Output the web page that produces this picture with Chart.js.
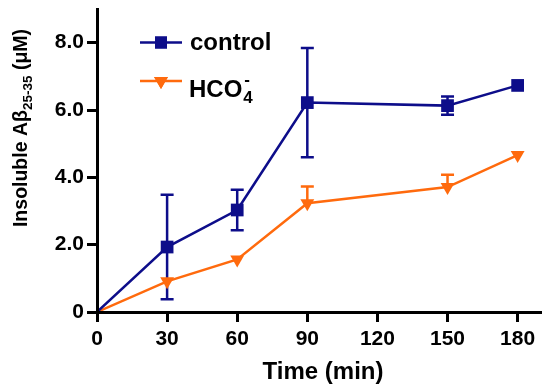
<!DOCTYPE html>
<html>
<head>
<meta charset="utf-8">
<script src="https://cdn.jsdelivr.net/npm/chart.js@4/dist/chart.umd.min.js"></script>
<style>
  html, body { margin: 0; padding: 0; background: #fff; }
  #wrap { width: 550px; height: 389px; }
</style>
</head>
<body>
<div id="wrap"><canvas id="grafico"></canvas></div>
<script>
// dados
const tempoMin = [0, 30, 60, 90, 150, 180];
const controleMedia = [0, 1.93, 3.03, 6.22, 6.13, 6.73];
const controleErro = [0, 1.55, 0.60, 1.62, 0.27, 0];
const hco4Media = [0, 0.91, 1.56, 3.23, 3.71, 4.66];
const hco4ErroSup = [0, 0, 0, 0.50, 0.37, 0];   // só a barra de cima aparece

const xTicks = [0, 30, 60, 90, 120, 150, 180];
const yTicks = [0, 2, 4, 6, 8];

const AZUL = "#0d0d8a";
const LARANJA = "#ff6a0d";
const FONTE = "'Liberation Sans', Arial, sans-serif";

const pares = (ys) => tempoMin.map((t, i) => ({ x: t, y: ys[i] }));

// barras de erro (desenhadas antes dos marcadores)
const barrasErro = {
    id: "barrasErro",
    beforeDatasetsDraw(chart) {
        const { ctx, scales: { x, y } } = chart;
        const series = [
            { media: controleMedia, sup: controleErro, inf: controleErro, cor: AZUL },
            { media: hco4Media, sup: hco4ErroSup, inf: null, cor: LARANJA },
        ];
        ctx.save();
        ctx.lineWidth = 2.5;
        series.forEach((s) => {
            ctx.strokeStyle = s.cor;
            tempoMin.forEach((t, i) => {
                const px = x.getPixelForValue(t);
                const py = y.getPixelForValue(s.media[i]);
                const cap = 6.5;
                if (s.sup[i] > 0) {
                    const top = y.getPixelForValue(s.media[i] + s.sup[i]);
                    ctx.beginPath();
                    ctx.moveTo(px, py); ctx.lineTo(px, top);
                    ctx.moveTo(px - cap, top); ctx.lineTo(px + cap, top);
                    ctx.stroke();
                }
                if (s.inf && s.inf[i] > 0) {
                    const bot = y.getPixelForValue(s.media[i] - s.inf[i]);
                    ctx.beginPath();
                    ctx.moveTo(px, py); ctx.lineTo(px, bot);
                    ctx.moveTo(px - cap, bot); ctx.lineTo(px + cap, bot);
                    ctx.stroke();
                }
            });
        });
        ctx.restore();
    },
};

// legenda interna + títulos dos eixos (com sub/sobrescrito)
const textos = {
    id: "textos",
    afterDraw(chart) {
        const { ctx } = chart;
        ctx.save();
        ctx.fillStyle = "#000";
        ctx.textBaseline = "alphabetic";

        // legenda
        const item = (yLinha, cor, estilo, rot) => {
            ctx.strokeStyle = cor;
            ctx.lineWidth = 2.5;
            ctx.beginPath();
            ctx.moveTo(140, yLinha); ctx.lineTo(182, yLinha);
            ctx.stroke();
            ctx.fillStyle = cor;
            Chart.helpers.drawPoint(ctx, { pointStyle: estilo, radius: estilo === "rect" ? 8.5 : 8, rotation: rot, borderWidth: 0 }, 161, yLinha);
            ctx.fill();
        };
        item(42.5, AZUL, "rect", 0);
        item(81, LARANJA, "triangle", 180);

        ctx.fillStyle = "#000";
        ctx.font = `bold 24px ${FONTE}`;
        ctx.textAlign = "left";
        ctx.fillText("control", 190, 50);
        ctx.fillText("HCO", 189, 97);
        let w = ctx.measureText("HCO").width;
        ctx.font = `bold 17px ${FONTE}`;
        ctx.fillText("4", 189 + w + 1, 103);
        ctx.fillText("-", 189 + w + 2, 85);

        // título do eixo x
        ctx.font = `bold 24px ${FONTE}`;
        ctx.textAlign = "center";
        ctx.fillText("Time (min)", 323, 379);

        // título do eixo y, girado
        ctx.translate(27, 128);
        ctx.rotate(-Math.PI / 2);
        const partes = [
            { t: "Insoluble A\u03b2", f: `bold 19.5px ${FONTE}`, dy: 0 },
            { t: "25-35", f: `bold 13.5px ${FONTE}`, dy: 5 },
            { t: " (\u03bcM)", f: `bold 19.5px ${FONTE}`, dy: 0 },
        ];
        let total = 0;
        partes.forEach((p) => { ctx.font = p.f; total += ctx.measureText(p.t).width; });
        let cx = -total / 2;
        ctx.textAlign = "left";
        partes.forEach((p) => {
            ctx.font = p.f;
            ctx.fillText(p.t, cx, p.dy);
            cx += ctx.measureText(p.t).width;
        });
        ctx.restore();
    },
};

// o marcador na origem fica escondido atrás dos eixos no original
const raio = (r) => (ctx) => (ctx.dataIndex === 0 ? 0 : r);

new Chart(document.getElementById("grafico"), {
    type: "line",
    data: {
        datasets: [
            {
                label: "control",
                data: pares(controleMedia),
                borderColor: AZUL,
                backgroundColor: AZUL,
                borderWidth: 2.5,
                pointStyle: "rect",
                pointRadius: raio(9),
                pointBorderWidth: 0,
            },
            {
                label: "HCO4-",
                data: pares(hco4Media),
                borderColor: LARANJA,
                backgroundColor: LARANJA,
                borderWidth: 2.5,
                pointStyle: "triangle",
                pointRotation: 180,
                pointRadius: raio(8),
                pointBorderWidth: 0,
            },
        ],
    },
    options: {
        responsive: true,
        maintainAspectRatio: false,
        animation: false,
        layout: { padding: { top: 6, right: 6, left: 0, bottom: 0 } },
        plugins: { legend: { display: false }, tooltip: { enabled: false } },
        scales: {
            x: {
                type: "linear",
                min: 0,
                max: 190,
                afterBuildTicks: (s) => { s.ticks = xTicks.map((v) => ({ value: v })); },
                afterFit: (s) => { s.height = 77; s.paddingLeft = 0; s.paddingRight = 0; },
                grid: { drawOnChartArea: false, tickLength: 10, tickWidth: 3, tickColor: "#000" },
                border: { color: "#000", width: 3, z: 1 },
                ticks: { color: "#000", padding: 5, font: { family: FONTE, size: 21, weight: "bold" } },
            },
            y: {
                min: 0,
                max: 9,
                afterBuildTicks: (s) => { s.ticks = yTicks.map((v) => ({ value: v })); },
                afterFit: (s) => { s.width = 97; s.paddingTop = 0; s.paddingBottom = 0; },
                grid: { drawOnChartArea: false, tickLength: 10, tickWidth: 3, tickColor: "#000" },
                border: { color: "#000", width: 3, z: 1 },
                ticks: {
                    color: "#000",
                    padding: 3,
                    font: { family: FONTE, size: 21, weight: "bold" },
                    callback: (v) => (v === 0 ? "0" : v.toFixed(1)),
                },
            },
        },
    },
    plugins: [barrasErro, textos],
});
</script>
</body>
</html>
